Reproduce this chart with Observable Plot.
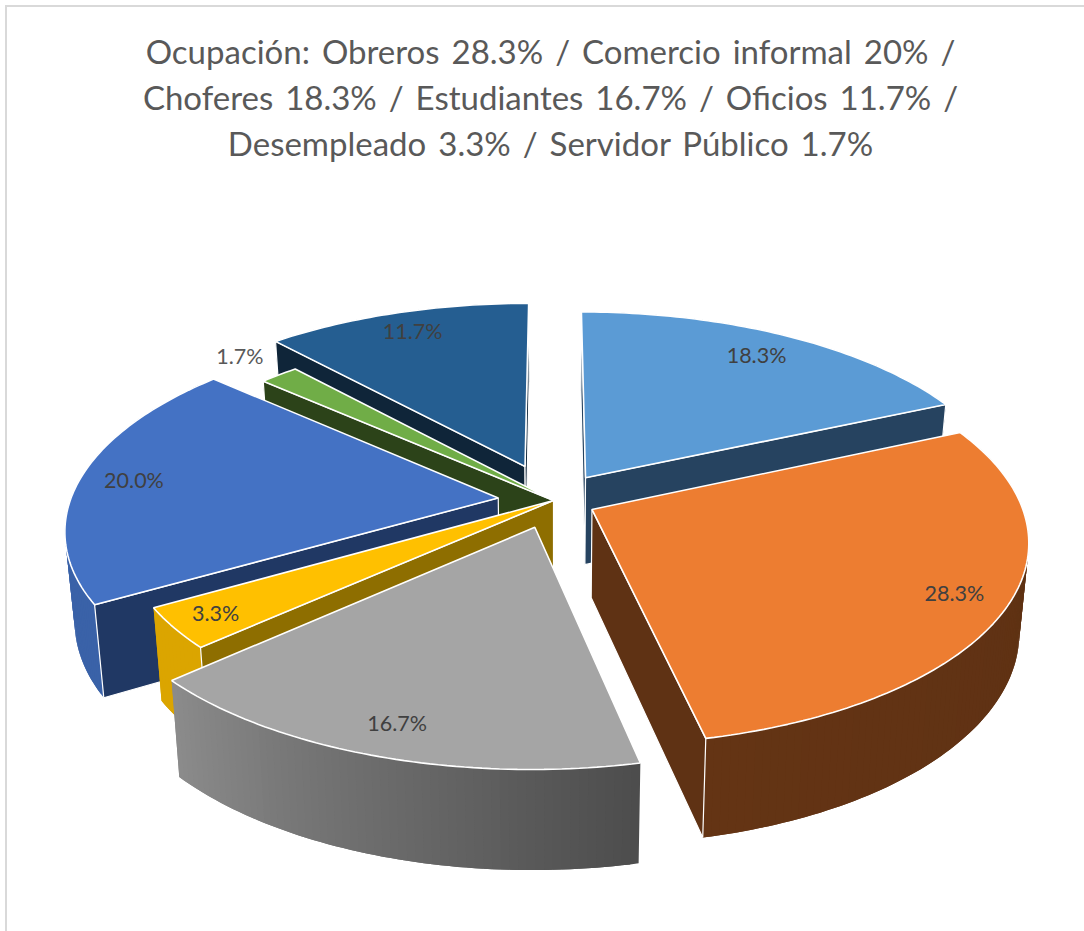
<!DOCTYPE html>
<html><head><meta charset="utf-8">
<script src="https://cdn.jsdelivr.net/npm/d3@7"></script>
<script src="https://cdn.jsdelivr.net/npm/@observablehq/plot@0.6"></script>
<style>
html,body{margin:0;padding:0;background:#fff}
#page{position:relative;width:1084px;height:931px;overflow:hidden}
#frame{position:absolute;left:5px;top:5px;width:1090px;height:940px;border:2px solid #d9d9d9;box-sizing:border-box}
#title{position:absolute;left:0;top:28px;width:1101px;text-align:center;font:33px/46px Lato,sans-serif;color:#595959;word-spacing:3.5px}
#chart{position:absolute;left:0;top:0}
svg{display:block}
</style></head><body>
<div id="page"><div id="frame"></div>
<div id="title">Ocupación: Obreros 28.3% / Comercio informal 20% /<br>Choferes 18.3% / Estudiantes 16.7% / Oficios 11.7% /<br>Desempleado 3.3% / Servidor Público 1.7%</div>
<div id="chart"></div></div>
<script>
const categories = ["Choferes","Obreros","Estudiantes","Desempleado","Comercio informal","Servidor Público","Oficios"];
const values = [18.3,28.3,16.7,3.3,20.0,1.7,11.7];
const explosion = [0.14,0.10,0.14,0,0.13,0,0.19];
const labelDistance = [0.98,0.98,1.02,0.9,1.0,1.16,1.05];
const topColors = ["#5B9BD5","#ED7D31","#A5A5A5","#FFC000","#4472C4","#70AD47","#255E91"];
const wallColors = ["#264360","#5F3214","#555555","#8E6E00","#203864","#2C4319","#0F2539"];
const rimStart = ["#264360","#5C3013","#4D4D4D","#DBA500","#3A62A8","#2C4319","#0F2539"];
const rimEnd = ["#264360","#643414","#8C8C8C","#DBA500","#3A62A8","#2C4319","#0F2539"];
const labelColors = ["#404040","#404040","#404040","#404040","#404040","#595959","#404040"];
// draw order, back to front
const paintOrder = [0,6,5,4,3,2,1];

const cx=553, cy=500, R=428, r=197, k=0.15, depth=88, shrink=0.98;
const project=(X,Y,low)=>{
  const s=1/(1+k*Y), f=low?shrink:1;
  return [cx+R*X*s*f, cy-r*Y*s*f+(low?depth*s:0)];
};
const total=d3.sum(values);
let run=0;
const slices=values.map((v,i)=>{
  const a0=run/total*2*Math.PI; run+=v; const a1=run/total*2*Math.PI; const mid=(a0+a1)/2;
  return {i,a0,a1,mid,ox:explosion[i]*Math.sin(mid),oy:explosion[i]*Math.cos(mid)};
});
const rows=[]; let nid=0;
const addPoly=(pts,fill,stroke,sw)=>{const id=nid++;pts.forEach(p=>rows.push({id,x:p[0],y:p[1],fill,stroke,sw}));};
const area=p=>d3.sum(p,(q,i)=>{const n=p[(i+1)%p.length];return q[0]*n[1]-n[0]*q[1];});
for(const i of paintOrder){
  const s=slices[i];
  const rim=(a,low)=>project(s.ox+Math.sin(a),s.oy+Math.cos(a),low);
  const n=Math.max(3,Math.ceil((s.a1-s.a0)*180/Math.PI));
  const ang=d3.range(n+1).map(j=>s.a0+(s.a1-s.a0)*j/n);
  const col=d3.interpolateRgb(rimStart[i],rimEnd[i]);
  const step=ang[1]-ang[0];
  d3.pairs(ang).forEach(([a,b],j)=>{
    const c=col(j/n), e=j<n-1?b+step:b;
    addPoly([rim(a,false),rim(b,false),rim(e,false),rim(e,true),rim(b,true),rim(a,true)],c,"none",0);
  });
  const ap=project(s.ox,s.oy,false), ab=project(s.ox,s.oy,true);
  const w0=[ap,rim(s.a0,false),rim(s.a0,true),ab], w1=[ap,rim(s.a1,false),rim(s.a1,true),ab];
  if(area(w0)<0) addPoly(w0,wallColors[i],"#fff",1.2);
  if(area(w1)>0) addPoly(w1,wallColors[i],"#fff",1.2);
  addPoly([ap,...ang.map(a=>rim(a,false))],topColors[i],"#fff",1.6);
}
const labels=slices.map(s=>{
  const t=labelDistance[s.i], p=project(t*Math.sin(s.mid),t*Math.cos(s.mid),false);
  return {x:p[0],y:p[1],text:values[s.i].toFixed(1)+"%",color:labelColors[s.i],name:categories[s.i]};
});
const plot=Plot.plot({
  width:1084,height:931,margin:0,
  x:{domain:[0,1084],axis:null},y:{domain:[931,0],axis:null},
  color:{type:"identity"},
  style:{background:"transparent"},
  marks:[
    Plot.line(rows,{x:"x",y:"y",z:"id",fill:"fill",stroke:"stroke",strokeWidth:"sw",curve:"linear-closed",strokeLinejoin:"miter"}),
    Plot.text(labels,{x:"x",y:"y",text:"text",fill:"color",fontSize:21.5,fontFamily:"Lato, sans-serif"})
  ]
});
document.getElementById("chart").appendChild(plot);
</script>
</body></html>
